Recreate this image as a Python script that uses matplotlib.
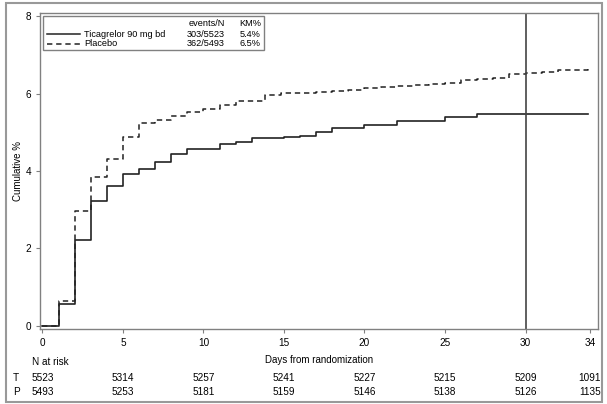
import numpy as np
import matplotlib.pyplot as plt
from matplotlib.patches import Rectangle

plt.rcParams['font.family'] = ['Liberation Sans', 'DejaVu Sans']

# cumulative % by day
days_t = [0, 1, 2, 3, 4, 5, 6, 7, 8, 9, 10, 11, 12, 13, 14, 15, 16, 17, 18, 19, 20,
          21, 22, 23, 24, 25, 26, 27, 28, 29, 30, 31, 32, 33, 33.9]
ticag = [0, 0.57, 2.22, 3.23, 3.60, 3.91, 4.05, 4.24, 4.45, 4.58, 4.58, 4.69, 4.76,
         4.85, 4.86, 4.89, 4.91, 5.02, 5.10, 5.10, 5.20, 5.20, 5.28, 5.28, 5.28, 5.39,
         5.39, 5.48, 5.48, 5.48, 5.48, 5.48, 5.48, 5.48, 5.48]
days_p = [0, 1, 2, 3, 4, 5, 6, 7, 8, 9, 10, 11, 12, 13, 13.8, 14.8, 16, 17, 18, 19, 20,
          21, 22, 23, 24, 25, 26, 27, 28, 29, 30, 31, 32, 33, 33.9]
placebo = [0, 0.65, 2.96, 3.84, 4.31, 4.87, 5.23, 5.31, 5.41, 5.52, 5.60, 5.70, 5.80,
           5.80, 5.95, 6.01, 6.01, 6.03, 6.07, 6.10, 6.15, 6.17, 6.20, 6.22, 6.25, 6.28,
           6.36, 6.38, 6.41, 6.50, 6.52, 6.55, 6.60, 6.60, 6.70]

risk_days = [0, 5, 10, 15, 20, 25, 30, 34]
risk_t = [5523, 5314, 5257, 5241, 5227, 5215, 5209, 1091]
risk_p = [5493, 5253, 5181, 5159, 5146, 5138, 5126, 1135]

groups = ['Ticagrelor 90 mg bd', 'Placebo']
events = ['303/5523', '362/5493']
km = ['5.4%', '6.5%']

lc = '#222222'
gc = '#808080'

fig = plt.figure(figsize=(6.07, 4.04), dpi=100)
ax = fig.add_axes([40/607, 1-329/404, 558/607, 316/404])

ax.step(days_t, ticag, where='post', color=lc, lw=1.2)
ax.step(days_p, placebo, where='post', color=lc, lw=1.1, linestyle=(0, (3.5, 2.5)))
ax.axvline(30, color='#444444', lw=1.2)

ax.set_xlim(-0.15, 34.5)
ax.set_ylim(-0.08, 8.08)
ax.set_xticks(risk_days)
ax.set_yticks([0, 2, 4, 6, 8])
ax.tick_params(colors=gc, labelcolor='black', labelsize=7.2, length=3, width=0.8)
for s in ax.spines.values():
    s.set_color(gc)
    s.set_linewidth(1.0)
ax.set_xlabel('Days from randomization', fontsize=7, labelpad=5)
ax.set_ylabel('Cumulative %', fontsize=7)
ax.yaxis.set_label_coords(-0.03, 0.5)

# legend table
ax.add_patch(Rectangle((0.0054, 0.883), 0.396, 0.1075, transform=ax.transAxes,
                       fill=False, edgecolor=gc, lw=1.0))
ax.text(0.331, 0.968, 'events/N', transform=ax.transAxes, fontsize=6.6, ha='right', va='center')
ax.text(0.396, 0.968, 'KM%', transform=ax.transAxes, fontsize=6.6, ha='right', va='center')
rows_y = [0.9335, 0.902]
styles = ['-', (0, (3.5, 2.5))]
for i in range(2):
    ax.plot([0.0125, 0.0717], [rows_y[i], rows_y[i]], transform=ax.transAxes,
            color=lc, lw=1.1, linestyle=styles[i])
    ax.text(0.0789, rows_y[i], groups[i], transform=ax.transAxes, fontsize=6.6, va='center')
    ax.text(0.331, rows_y[i], events[i], transform=ax.transAxes, fontsize=6.6, ha='right', va='center')
    ax.text(0.396, rows_y[i], km[i], transform=ax.transAxes, fontsize=6.6, ha='right', va='center')

# numbers at risk
tr = ax.get_xaxis_transform()
ax.text(-0.65, -0.104, 'N at risk', transform=tr, fontsize=7.2, va='center')
ax.text(-0.048, -0.154, 'T', transform=ax.transAxes, fontsize=7.2, va='center', ha='left')
ax.text(-0.048, -0.2, 'P', transform=ax.transAxes, fontsize=7.2, va='center', ha='left')
for d, a, b in zip(risk_days, risk_t, risk_p):
    ax.text(d, -0.154, str(a), transform=tr, fontsize=7.2, ha='center', va='center')
    ax.text(d, -0.2, str(b), transform=tr, fontsize=7.2, ha='center', va='center')

# outer frame
fig.add_artist(Rectangle((6/607, 2/404), 596/607, 399/404, transform=fig.transFigure,
                         fill=False, edgecolor='#999999', lw=1.5))

fig.savefig('out.png', dpi=100)
